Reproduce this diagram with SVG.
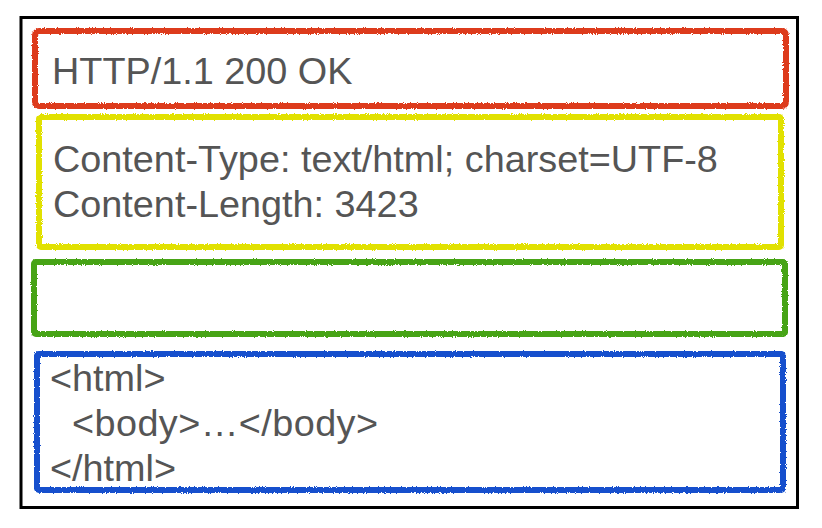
<svg xmlns="http://www.w3.org/2000/svg" width="822" height="528" viewBox="0 0 822 528">
  <defs>
    <!-- crayon-like roughness for the section outlines -->
    <filter id="crayon" x="-5%" y="-5%" width="110%" height="110%">
      <feTurbulence type="fractalNoise" baseFrequency="1.1" numOctaves="2" seed="3" result="noise"/>
      <feDisplacementMap in="SourceGraphic" in2="noise" scale="3" xChannelSelector="R" yChannelSelector="G"/>
    </filter>
  </defs>
  <style>
    .frame { fill: none; stroke: #000; stroke-width: 3; }
    .box { fill: none; stroke-width: 6; stroke-linejoin: round; filter: url(#crayon); }
    .status { stroke: #dd3a1f; }
    .headers { stroke: #e1e100; }
    .blank { stroke: #46a414; }
    .body { stroke: #1450cd; }
    .txt { font-family: "Liberation Sans", Arial, Helvetica, sans-serif; font-size: 37.8px; fill: #555555; }
  </style>

  <rect width="822" height="528" fill="#ffffff"/>

  <!-- outer message frame -->
  <rect class="frame" x="21" y="17.5" width="776.5" height="490"/>

  <!-- status line -->
  <g id="status-line">
    <rect class="box status" x="35" y="31" width="751" height="75" rx="4"/>
    <text class="txt" x="52" y="84">HTTP/1.1 200 OK</text>
  </g>

  <!-- header fields -->
  <g id="headers">
    <rect class="box headers" x="39" y="117" width="742" height="130" rx="2"/>
    <text class="txt" x="53" y="172">Content-Type: text/html; charset=UTF-8</text>
    <text class="txt" x="53" y="217">Content-Length: 3423</text>
  </g>

  <!-- empty line -->
  <g id="empty-line">
    <rect class="box blank" x="34" y="262" width="751" height="72" rx="2"/>
  </g>

  <!-- message body -->
  <g id="message-body">
    <rect class="box body" x="37" y="354" width="746" height="136" rx="2"/>
    <text class="txt" x="50" y="391">&lt;html&gt;</text>
    <text class="txt" x="72" y="436" textLength="306" lengthAdjust="spacing">&lt;body&gt;…&lt;/body&gt;</text>
    <text class="txt" x="50" y="481">&lt;/html&gt;</text>
  </g>
</svg>
